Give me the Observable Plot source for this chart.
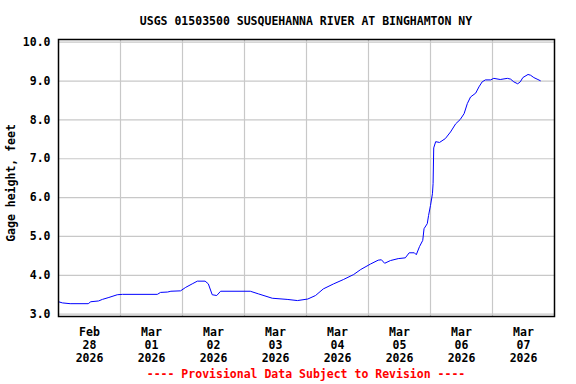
<!DOCTYPE html>
<html><head><meta charset="utf-8">
<script src="https://cdn.jsdelivr.net/npm/d3@7"></script>
<script src="https://cdn.jsdelivr.net/npm/@observablehq/plot@0.6"></script>
<style>
body{margin:0;background:#fff;}
#wrap{width:576px;height:384px;}
</style></head><body><div id="wrap"></div>
<script>
const title = "USGS 01503500 SUSQUEHANNA RIVER AT BINGHAMTON NY";
const yLabel = "Gage height, feet";
const footer = "---- Provisional Data Subject to Revision ----";

const times = [
"02-28T00:00","02-28T01:30","02-28T04:30","02-28T11:30","02-28T12:30","02-28T15:30","02-28T17:00","02-28T19:30","02-28T22:45",
"03-01T00:45","03-01T14:15","03-01T15:30","03-01T18:15","03-01T19:30","03-01T23:15",
"03-02T01:15","03-02T03:45","03-02T05:45","03-02T08:45","03-02T10:00","03-02T11:30","03-02T13:15","03-02T14:45",
"03-03T02:15","03-03T05:30","03-03T10:45","03-03T16:30","03-03T20:30",
"03-04T00:30","03-04T03:30","03-04T06:30","03-04T10:30","03-04T14:15","03-04T18:15","03-04T21:00",
"03-05T00:45","03-05T03:45","03-05T05:00","03-05T06:15","03-05T08:30","03-05T11:30","03-05T14:15","03-05T15:45","03-05T17:45","03-05T18:30","03-05T19:45","03-05T21:00","03-05T21:30","03-05T22:45","03-05T23:15",
"03-06T00:00","03-06T00:45","03-06T01:00","03-06T01:15","03-06T02:00","03-06T03:30","03-06T05:45","03-06T07:45","03-06T09:45","03-06T11:30","03-06T13:00","03-06T14:15","03-06T15:30","03-06T17:30","03-06T18:45","03-06T20:00","03-06T21:15","03-06T23:15",
"03-07T00:30","03-07T03:00","03-07T05:45","03-07T07:00","03-07T08:15","03-07T09:45","03-07T10:45","03-07T11:45","03-07T13:45","03-07T14:45","03-07T16:00","03-07T17:15","03-07T18:30"
];
const values = [
3.32,3.29,3.27,3.27,3.32,3.34,3.38,3.43,3.50,
3.51,3.51,3.56,3.57,3.59,3.60,
3.69,3.78,3.85,3.85,3.78,3.50,3.48,3.59,
3.59,3.52,3.41,3.38,3.35,
3.39,3.48,3.65,3.78,3.89,4.02,4.15,
4.29,4.39,4.40,4.31,4.38,4.43,4.45,4.58,4.58,4.53,4.74,4.90,5.20,5.33,5.54,
5.80,6.10,6.36,7.28,7.44,7.42,7.52,7.69,7.90,8.01,8.16,8.42,8.59,8.69,8.85,8.98,9.03,9.03,
9.07,9.04,9.07,9.05,8.98,8.93,8.98,9.09,9.17,9.15,9.09,9.05,9.01
];

const dayStarts = ["02-28","03-01","03-02","03-03","03-04","03-05","03-06","03-07","03-08"];
const dayLabels = ["Feb\n28\n2026","Mar\n01\n2026","Mar\n02\n2026","Mar\n03\n2026","Mar\n04\n2026","Mar\n05\n2026","Mar\n06\n2026","Mar\n07\n2026"];
const yTicks = [3,4,5,6,7,8,9,10];

const toDate = s => new Date("2026-" + s + "Z");
const data = times.map((t, i) => ({t: toDate(t), v: values[i]}));
const midnights = dayStarts.map(d => toDate(d + "T00:00"));
const noons = dayStarts.slice(0, 8).map(d => toDate(d + "T12:00"));
const labelMap = new Map(noons.map((d, i) => [+d, dayLabels[i]]));

const font = "'DejaVu Sans Mono', monospace";
const chart = Plot.plot({
  width: 576, height: 384,
  marginTop: 39, marginBottom: 68, marginLeft: 58, marginRight: 22,
  style: {fontFamily: font, fontWeight: "bold", fontSize: "11.5px", background: "white", color: "black"},
  x: {type: "utc", domain: [midnights[0], midnights[8]]},
  y: {domain: [2.94, 10.07]},
  marks: [
    Plot.gridX(midnights.slice(1, 8), {stroke: "#c8c8c8", strokeOpacity: 1, strokeWidth: 1.2}),
    Plot.gridY(yTicks, {stroke: "#c8c8c8", strokeOpacity: 1, strokeWidth: 1.2}),
    Plot.axisY(yTicks, {tickSize: 0, tickPadding: 8, tickFormat: d => d.toFixed(1), label: null, fontSize: 11.5}),
    Plot.axisX(noons, {tickSize: 0, tickPadding: 10, tickFormat: d => labelMap.get(+d), label: null, lineHeight: 1.13, fontSize: 11.5}),
    Plot.line(data, {x: "t", y: "v", stroke: "#0000ff", strokeWidth: 1}),
    Plot.frame({stroke: "black", strokeWidth: 1.5})
  ]
});

const svg = d3.select(chart);
svg.append("text").attr("x", 306).attr("y", 25).attr("text-anchor", "middle")
  .attr("font-size", 11.5).attr("fill", "black").text(title);
svg.append("text").attr("transform", "translate(15,183) rotate(-90)").attr("text-anchor", "middle")
  .attr("font-size", 11.5).attr("fill", "black").text(yLabel);
svg.append("text").attr("x", 306).attr("y", 378).attr("text-anchor", "middle")
  .attr("font-size", 11.5).attr("fill", "#ff0000").text(footer);

document.getElementById("wrap").appendChild(chart);
</script></body></html>
